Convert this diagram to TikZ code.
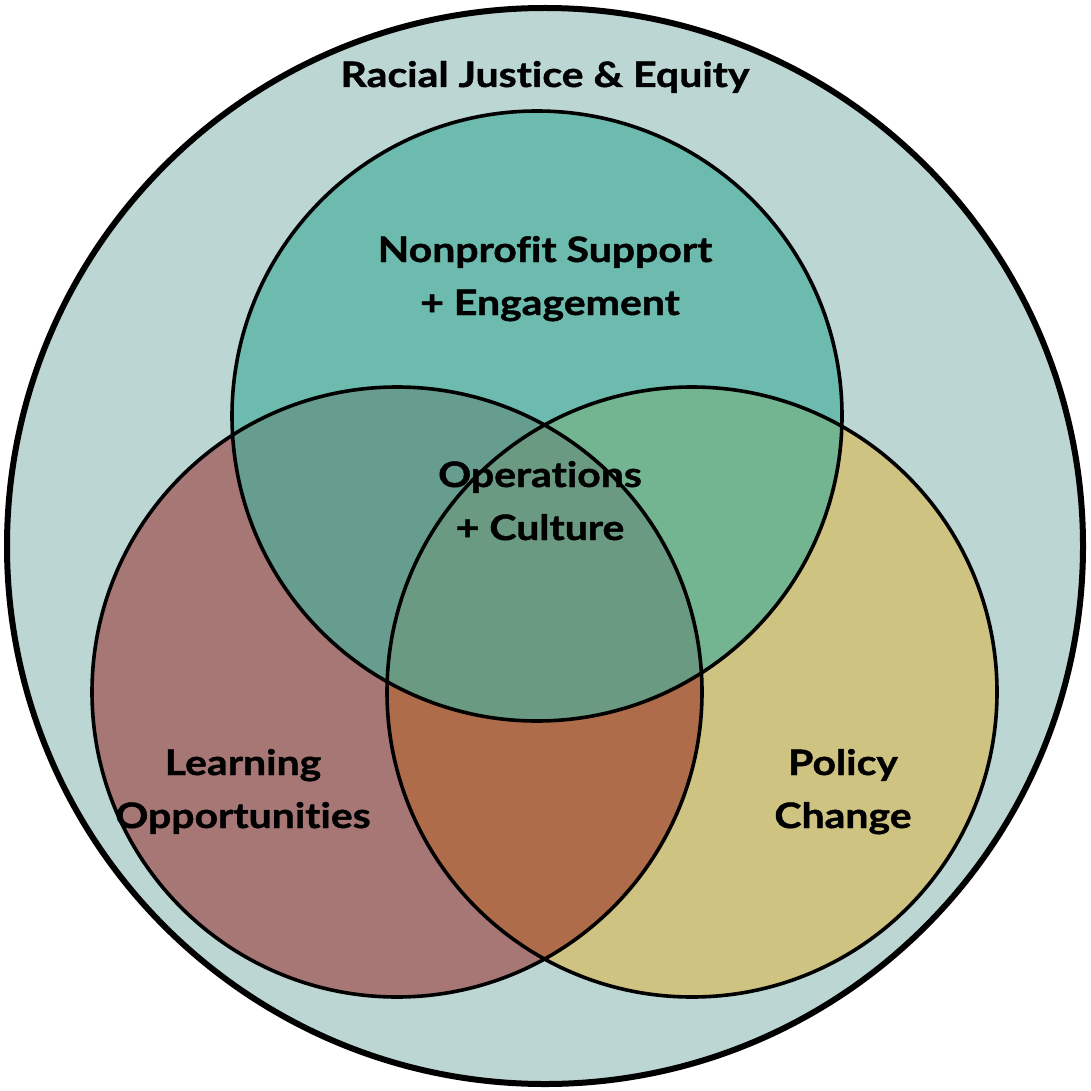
\documentclass[tikz,border=0pt]{standalone}
\usepackage{fontspec}
\setmainfont{Lato}[Ligatures={NoCommon},BoldFeatures={FakeStretch=1.17,FakeBold=1.2}]
\begin{document}
\begin{tikzpicture}[x=1pt,y=-1pt,
  ring/.style={draw=black,line width=3.6pt},
  lbl/.style={font=\fontsize{35}{53}\selectfont\bfseries,align=center,text=black,inner sep=0pt}]
\definecolor{outerc}{HTML}{BBD6D3}
\definecolor{topc}{HTML}{6CBBAE}
\definecolor{leftc}{HTML}{A67775}
\definecolor{rightc}{HTML}{CEC381}
\definecolor{tlc}{HTML}{669D8F}
\definecolor{trc}{HTML}{74B591}
\definecolor{lrc}{HTML}{AF6C4B}
\definecolor{allc}{HTML}{6A9A81}
\useasboundingbox (0,0) rectangle (1090,1091);
\coordinate (O) at (545,546);
\coordinate (T) at (537,416);
\coordinate (L) at (397,692);
\coordinate (R) at (692,692);
% outer ring
\fill[outerc] (O) circle[radius=538pt];
% single sets
\fill[topc] (T) circle[radius=305pt];
\fill[leftc] (L) circle[radius=305pt];
\fill[rightc] (R) circle[radius=305pt];
% pairwise overlaps
\begin{scope}\clip (T) circle[radius=305pt]; \fill[tlc] (L) circle[radius=305pt];\end{scope}
\begin{scope}\clip (T) circle[radius=305pt]; \fill[trc] (R) circle[radius=305pt];\end{scope}
\begin{scope}\clip (L) circle[radius=305pt]; \fill[lrc] (R) circle[radius=305pt];\end{scope}
% triple overlap
\begin{scope}\clip (T) circle[radius=305pt]; \clip (L) circle[radius=305pt]; \fill[allc] (R) circle[radius=305pt];\end{scope}
% outlines
\draw[ring] (T) circle[radius=305pt];
\draw[ring] (L) circle[radius=305pt];
\draw[ring] (R) circle[radius=305pt];
\draw[draw=black,line width=6pt] (O) circle[radius=538pt];
% labels (anchored on the baseline of the last line)
\node[lbl,anchor=base] (title) at (545,87) {Racial Justice \& Equity};
\node[lbl,anchor=base] (np) at (545,315) {Nonprofit Support\\\hspace*{10pt}+ Engagement};
\node[lbl,anchor=base] (oc) at (540,540) {Operations\\+ Culture};
\node[lbl,anchor=base] (lo) at (243,828) {Learning\\Opportunities};
\node[lbl,anchor=base] (pc) at (843,828) {Policy\\Change};
\end{tikzpicture}
\end{document}
